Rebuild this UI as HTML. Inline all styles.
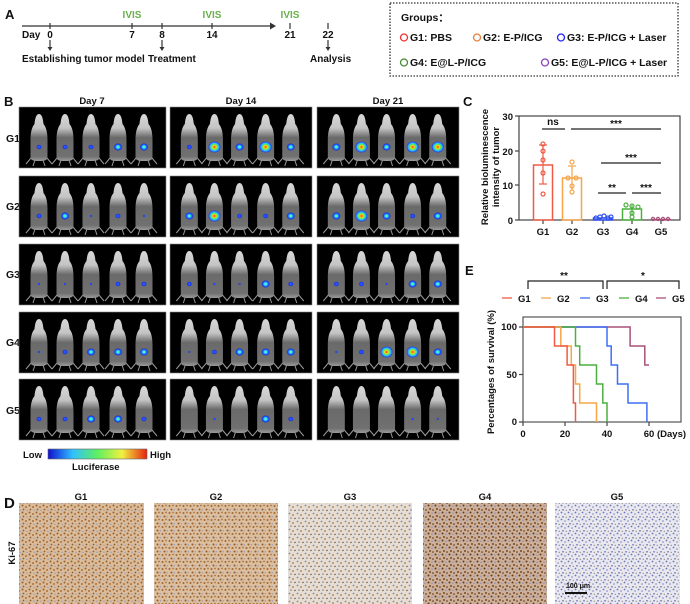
<!DOCTYPE html>
<html><head><meta charset="utf-8"><style>
html,body{margin:0;padding:0;background:#fff}
svg{display:block}
text{font-family:"Liberation Sans",Arial,sans-serif;font-weight:bold;fill:#111}
</style></head><body>
<svg width="690" height="604" viewBox="0 0 690 604" xmlns="http://www.w3.org/2000/svg">
<defs>
<linearGradient id="mg" x1="0" y1="0" x2="0" y2="1">
<stop offset="0" stop-color="#d8d8d8"/><stop offset="0.3" stop-color="#c4c4c4"/><stop offset="0.5" stop-color="#6a6a6a"/><stop offset="0.9" stop-color="#707070"/><stop offset="1" stop-color="#9a9a9a"/></linearGradient>
<symbol id="mouse" overflow="visible">
<path d="M0,4 C3,4 4,9 4.5,14 C7,17 8.5,22 8.5,30 L8.5,46 C8.5,50 7,51 0,51 C-7,51 -8.5,50 -8.5,46 L-8.5,30 C-8.5,22 -7,17 -4.5,14 C-4,9 -3,4 0,4Z" fill="url(#mg)"/>
<path d="M-8,48 L-13,54 M-4,50 L-6,56 M4,50 L6,56 M8,48 L13,54" stroke="#999" stroke-width="1"/>
</symbol>
<radialGradient id="s1"><stop offset="0" stop-color="#2a6cff"/><stop offset="0.7" stop-color="#1a3cff"/><stop offset="1" stop-color="#1020d0" stop-opacity="0.6"/></radialGradient>
<radialGradient id="s2"><stop offset="0" stop-color="#7dff60"/><stop offset="0.35" stop-color="#30e0ff"/><stop offset="0.7" stop-color="#1a50ff"/><stop offset="1" stop-color="#1020d0" stop-opacity="0.7"/></radialGradient>
<radialGradient id="s3"><stop offset="0" stop-color="#ff2a10"/><stop offset="0.3" stop-color="#ffd020"/><stop offset="0.5" stop-color="#50f050"/><stop offset="0.7" stop-color="#30c0ff"/><stop offset="1" stop-color="#1a30f0"/></radialGradient>
<linearGradient id="cb" x1="0" x2="1"><stop offset="0" stop-color="#1010d0"/><stop offset="0.25" stop-color="#30c0ff"/><stop offset="0.5" stop-color="#60f060"/><stop offset="0.75" stop-color="#f0f040"/><stop offset="1" stop-color="#e82010"/></linearGradient>
<pattern id="h1" width="7" height="7" patternUnits="userSpaceOnUse"><rect width="7" height="7" fill="#d8bc9c"/><circle cx="1.5" cy="1.5" r="1" fill="#a0622a"/><circle cx="5" cy="3" r="1" fill="#b07035"/><circle cx="2.5" cy="5.5" r="0.9" fill="#9a5a25"/><circle cx="6" cy="6.3" r="0.7" fill="#9098c4"/></pattern>
<pattern id="h2" width="7" height="7" patternUnits="userSpaceOnUse"><rect width="7" height="7" fill="#dabfa0"/><circle cx="1.5" cy="2" r="1" fill="#a5652c"/><circle cx="5" cy="1.5" r="0.9" fill="#b07238"/><circle cx="3.5" cy="5.5" r="1" fill="#9c5c27"/><circle cx="6.3" cy="5.8" r="0.7" fill="#9098c4"/></pattern>
<pattern id="h3" width="8" height="8" patternUnits="userSpaceOnUse"><rect width="8" height="8" fill="#e6ddd0"/><circle cx="1.5" cy="1.5" r="0.9" fill="#7c86c0"/><circle cx="5" cy="3" r="0.8" fill="#8a6035"/><circle cx="3" cy="6" r="0.9" fill="#8890c8"/><circle cx="7" cy="6.5" r="0.7" fill="#6a4a2a"/></pattern>
<pattern id="h4" width="7" height="7" patternUnits="userSpaceOnUse"><rect width="7" height="7" fill="#ccb09a"/><circle cx="1.5" cy="1.5" r="1" fill="#6a3a18"/><circle cx="5" cy="2.2" r="0.8" fill="#8a92c0"/><circle cx="3" cy="5" r="1" fill="#7a4620"/><circle cx="6" cy="6" r="0.8" fill="#5a3015"/></pattern>
<pattern id="h5" width="7" height="7" patternUnits="userSpaceOnUse"><rect width="7" height="7" fill="#e8e8ee"/><circle cx="1.5" cy="1.5" r="0.9" fill="#6a76b8"/><circle cx="5" cy="3" r="0.8" fill="#7c86c4"/><circle cx="3" cy="5.8" r="0.8" fill="#5a66b0"/><circle cx="6.2" cy="6.2" r="0.5" fill="#5a3a20"/></pattern>
</defs>

<!-- A -->
<text x="5" y="19" font-size="13">A</text>
<line x1="22" y1="26" x2="270" y2="26" stroke="#333" stroke-width="1.3"/>
<path d="M270,22.5 L276,26 L270,29.5Z" fill="#333"/>
<g stroke="#333" stroke-width="1.2">
<line x1="50" y1="23" x2="50" y2="29"/><line x1="132" y1="23" x2="132" y2="29"/><line x1="162" y1="23" x2="162" y2="29"/><line x1="212" y1="23" x2="212" y2="29"/><line x1="290" y1="23" x2="290" y2="29"/><line x1="328" y1="23" x2="328" y2="29"/>
<line x1="50" y1="40" x2="50" y2="49"/><line x1="162" y1="40" x2="162" y2="49"/><line x1="328" y1="40" x2="328" y2="49"/></g>
<path d="M47.5,47 L50,51 L52.5,47Z M159.5,47 L162,51 L164.5,47Z M325.5,47 L328,51 L330.5,47Z" fill="#333"/>
<g font-size="10" text-anchor="middle"><text x="132" y="18" style="fill:#6ab04c">IVIS</text><text x="212" y="18" style="fill:#6ab04c">IVIS</text><text x="290" y="18" style="fill:#6ab04c">IVIS</text>
<text x="50" y="38">0</text><text x="132" y="38">7</text><text x="162" y="38">8</text><text x="212" y="38">14</text><text x="290" y="38">21</text><text x="328" y="38">22</text></g>
<g font-size="10"><text x="22" y="38">Day</text><text x="22" y="62">Establishing tumor model</text><text x="148" y="62">Treatment</text><text x="310" y="62">Analysis</text></g>
<rect x="390" y="3" width="288" height="73" fill="none" stroke="#333" stroke-width="1.3" stroke-dasharray="1.5,1.5"/>
<g font-size="10.5"><text x="401" y="21">Groups：</text>
<text x="410" y="41">G1:  PBS</text><text x="483" y="41">G2:  E-P/ICG</text><text x="567" y="41">G3:  E-P/ICG + Laser</text>
<text x="410" y="66">G4:  E@L-P/ICG</text><text x="551" y="66">G5:  E@L-P/ICG + Laser</text></g>
<g fill="none" stroke-width="1.3"><circle cx="404" cy="37.5" r="3.5" stroke="#e33"/><circle cx="477" cy="37.5" r="3.5" stroke="#e8803a"/><circle cx="561" cy="37.5" r="3.5" stroke="#22f"/><circle cx="404" cy="62.5" r="3.5" stroke="#4a8a30"/><circle cx="545" cy="62.5" r="3.5" stroke="#8a40c0"/></g>

<!-- B -->
<text x="4" y="106" font-size="13">B</text>
<g font-size="9.5" text-anchor="middle"><text x="92" y="104">Day 7</text><text x="241" y="104">Day 14</text><text x="388" y="104">Day 21</text></g>
<g font-size="10.5"><text x="6" y="142">G1</text><text x="6" y="210">G2</text><text x="6" y="278">G3</text><text x="6" y="346">G4</text><text x="6" y="414">G5</text></g>
<g id="panels"></g>
<text x="23" y="458" font-size="9.5">Low</text>
<rect x="48" y="449" width="99" height="10" fill="url(#cb)" stroke="#666" stroke-width="0.6"/>
<text x="150" y="458" font-size="9.5">High</text>
<text x="72" y="470" font-size="9.5">Luciferase</text>

<!-- C -->
<text x="463" y="106" font-size="13">C</text>
<g transform="translate(488,167) rotate(-90)" font-size="9.5" text-anchor="middle"><text x="0" y="0">Relative bioluminescence</text><text x="0" y="11">intensity of tumor</text></g>
<rect x="519" y="116" width="161" height="104" fill="none" stroke="#444" stroke-width="1.2"/>
<g stroke="#444" stroke-width="1.2"><line x1="515" y1="116" x2="519" y2="116"/><line x1="515" y1="151" x2="519" y2="151"/><line x1="515" y1="185" x2="519" y2="185"/><line x1="515" y1="220" x2="519" y2="220"/>
<line x1="543" y1="220" x2="543" y2="224"/><line x1="572" y1="220" x2="572" y2="224"/><line x1="603" y1="220" x2="603" y2="224"/><line x1="632" y1="220" x2="632" y2="224"/><line x1="661" y1="220" x2="661" y2="224"/></g>
<g font-size="9.5" text-anchor="end"><text x="513" y="120">30</text><text x="513" y="155">20</text><text x="513" y="189">10</text><text x="513" y="224">0</text></g>
<g font-size="9.5" text-anchor="middle"><text x="543" y="235">G1</text><text x="572" y="235">G2</text><text x="603" y="235">G3</text><text x="632" y="235">G4</text><text x="661" y="235">G5</text></g>
<rect x="533.5" y="165" width="19" height="55" fill="none" stroke="#f05a45" stroke-width="1.5"/>
<rect x="562.5" y="178" width="19" height="42" fill="none" stroke="#f5a54a" stroke-width="1.5"/>
<rect x="593.5" y="218" width="19" height="2" fill="none" stroke="#3050f0" stroke-width="1.5"/>
<rect x="622.5" y="209" width="19" height="11" fill="none" stroke="#4caf3f" stroke-width="1.5"/>
<line x1="651" y1="219.5" x2="671" y2="219.5" stroke="#a8507a" stroke-width="1.5"/>
<g fill="none" stroke-width="1.2">
<g stroke="#f05a45"><line x1="543" y1="145" x2="543" y2="184"/><line x1="539" y1="145" x2="547" y2="145"/><line x1="539" y1="184" x2="547" y2="184"/><circle cx="543" cy="144" r="2"/><circle cx="543" cy="151" r="2"/><circle cx="543" cy="160" r="2"/><circle cx="543" cy="173" r="2"/><circle cx="543" cy="194" r="2"/></g>
<g stroke="#f5a54a"><line x1="572" y1="166" x2="572" y2="190"/><line x1="568" y1="166" x2="576" y2="166"/><circle cx="572" cy="162" r="2"/><circle cx="568" cy="178" r="2"/><circle cx="576" cy="178" r="2"/><circle cx="572" cy="186" r="2"/><circle cx="572" cy="192" r="2"/></g>
<g stroke="#3050f0"><circle cx="596" cy="218" r="2"/><circle cx="600" cy="217" r="2"/><circle cx="604" cy="216" r="2"/><circle cx="608" cy="218" r="2"/><circle cx="611" cy="217" r="2"/></g>
<g stroke="#4caf3f"><line x1="632" y1="205" x2="632" y2="215"/><circle cx="626" cy="205" r="2"/><circle cx="632" cy="206" r="2"/><circle cx="638" cy="207" r="2"/><circle cx="632" cy="213" r="2"/><circle cx="632" cy="217" r="2"/></g>
<g stroke="#a8507a"><circle cx="653" cy="219" r="1.6"/><circle cx="658" cy="219" r="1.6"/><circle cx="663" cy="219" r="1.6"/><circle cx="668" cy="219" r="1.6"/></g>
</g>
<g stroke="#222" stroke-width="1.2"><line x1="542" y1="129" x2="565" y2="129"/><line x1="571" y1="129" x2="661" y2="129"/><line x1="601" y1="163" x2="661" y2="163"/><line x1="598" y1="193" x2="626" y2="193"/><line x1="632" y1="193" x2="661" y2="193"/></g>
<g font-size="10" text-anchor="middle"><text x="553" y="125">ns</text><text x="616" y="127">***</text><text x="631" y="161">***</text><text x="612" y="191">**</text><text x="646" y="191">***</text></g>

<!-- E -->
<text x="465" y="275" font-size="13">E</text>
<path d="M528,289 V281 H603 V289 M607,289 V281 H679 V289" fill="none" stroke="#222" stroke-width="1.2"/>
<g font-size="10" text-anchor="middle"><text x="564" y="279">**</text><text x="643" y="279">*</text></g>
<g stroke-width="1.3"><line x1="502" y1="298" x2="512" y2="298" stroke="#f05a45"/><line x1="541" y1="298" x2="551" y2="298" stroke="#f5a54a"/><line x1="580" y1="298" x2="590" y2="298" stroke="#3d6ff5"/><line x1="619" y1="298" x2="629" y2="298" stroke="#4caf3f"/><line x1="656" y1="298" x2="666" y2="298" stroke="#a8507a"/></g>
<g font-size="9.5"><text x="518" y="302">G1</text><text x="557" y="302">G2</text><text x="596" y="302">G3</text><text x="635" y="302">G4</text><text x="672" y="302">G5</text></g>
<text transform="translate(494,372) rotate(-90)" font-size="9.5" text-anchor="middle">Percentages of survival (%)</text>
<rect x="523" y="317" width="158" height="105" fill="none" stroke="#555" stroke-width="1.2"/>
<g stroke="#444" stroke-width="1.2"><line x1="519" y1="327" x2="523" y2="327"/><line x1="519" y1="374.5" x2="523" y2="374.5"/><line x1="519" y1="422" x2="523" y2="422"/>
<line x1="523" y1="422" x2="523" y2="426"/><line x1="565" y1="422" x2="565" y2="426"/><line x1="607" y1="422" x2="607" y2="426"/><line x1="649" y1="422" x2="649" y2="426"/></g>
<g font-size="9.5" text-anchor="end"><text x="517" y="330">100</text><text x="517" y="378">50</text><text x="517" y="425">0</text></g>
<g font-size="9.5" text-anchor="middle"><text x="523" y="437">0</text><text x="565" y="437">20</text><text x="607" y="437">40</text><text x="649" y="437">60</text></g>
<text x="657" y="437" font-size="9.5">(Days)</text>
<g fill="none" stroke-width="1.5">
<path d="M523,327 H630.1 V346 H644.8 V365 H649" stroke="#a8507a"/>
<path d="M523,327 H607 V346 H611.2 V365 H617.5 V384 H628 V403 H646.9 V422" stroke="#3d6ff5"/>
<path d="M523,327 H575.5 V346 H579.7 V365 H596.5 V384 H602.8 V403 H607 V422" stroke="#4caf3f"/>
<path d="M523,327 H560.8 V346 H571.3 V365 H575.5 V384 H579.7 V403 H596.5 V422" stroke="#f5a54a"/>
<path d="M523,327 H554.5 V346 H567.1 V365 H573.4 V403 H575.5 V422" stroke="#f05a45"/>
</g>

<!-- D -->
<text x="4" y="508" font-size="15">D</text>
<g font-size="9.5" text-anchor="middle"><text x="81" y="500">G1</text><text x="216" y="500">G2</text><text x="350" y="500">G3</text><text x="485" y="500">G4</text><text x="617" y="500">G5</text></g>
<text transform="translate(15,553) rotate(-90)" font-size="9.5" text-anchor="middle">Ki-67</text>
<rect x="19" y="503" width="125" height="101" fill="url(#h1)"/>
<rect x="154" y="503" width="124" height="101" fill="url(#h2)"/>
<rect x="288" y="503" width="124" height="101" fill="url(#h3)"/>
<rect x="423" y="503" width="124" height="101" fill="url(#h4)"/>
<rect x="555" y="503" width="125" height="101" fill="url(#h5)"/>
<line x1="565" y1="593" x2="587" y2="593" stroke="#111" stroke-width="2"/>
<text x="566" y="588" font-size="7">100 μm</text>
</svg>
<script>
(function(){
var ns="http://www.w3.org/2000/svg",g=document.getElementById("panels");
var px=[19,170,317],pw=[147,142,142],py=[107,176,244,312,379];
var offs=[20,46,72,99,125];
var S=[
[[2,2,2,3,3],[2,4,3,4,3],[3,4,3,4,4]],
[[2,3,1,2,1],[3,4,2,2,3],[3,4,3,2,3]],
[[1,1,1,2,2],[2,1,1,3,2],[2,2,1,3,3]],
[[1,2,3,3,3],[1,2,3,3,3],[1,2,4,4,3]],
[[2,2,3,3,2],[0,1,0,3,2],[0,0,0,1,1]]];
for(var r=0;r<5;r++)for(var d=0;d<3;d++){
 var rc=document.createElementNS(ns,"rect");
 rc.setAttribute("x",px[d]);rc.setAttribute("y",py[r]);rc.setAttribute("width",pw[d]);rc.setAttribute("height",61);
 rc.setAttribute("fill","#000");rc.setAttribute("stroke","#888");rc.setAttribute("stroke-width","0.6");g.appendChild(rc);
 for(var m=0;m<5;m++){
  var cx=px[d]+offs[m]*(pw[d]/147);
  var u=document.createElementNS(ns,"use");u.setAttribute("href","#mouse");
  u.setAttribute("x",cx);u.setAttribute("y",py[r]+3);g.appendChild(u);
  var s=S[r][d][m];if(!s)continue;
  var e=document.createElementNS(ns,"ellipse");
  var rad=[0,1.2,2.5,4,6][s];
  e.setAttribute("cx",cx);e.setAttribute("cy",py[r]+40);e.setAttribute("rx",rad);e.setAttribute("ry",rad*0.9);
  e.setAttribute("fill",s<=2?"url(#s1)":(s==3?"url(#s2)":"url(#s3)"));g.appendChild(e);
 }
}
})();
</script>
</body></html>
